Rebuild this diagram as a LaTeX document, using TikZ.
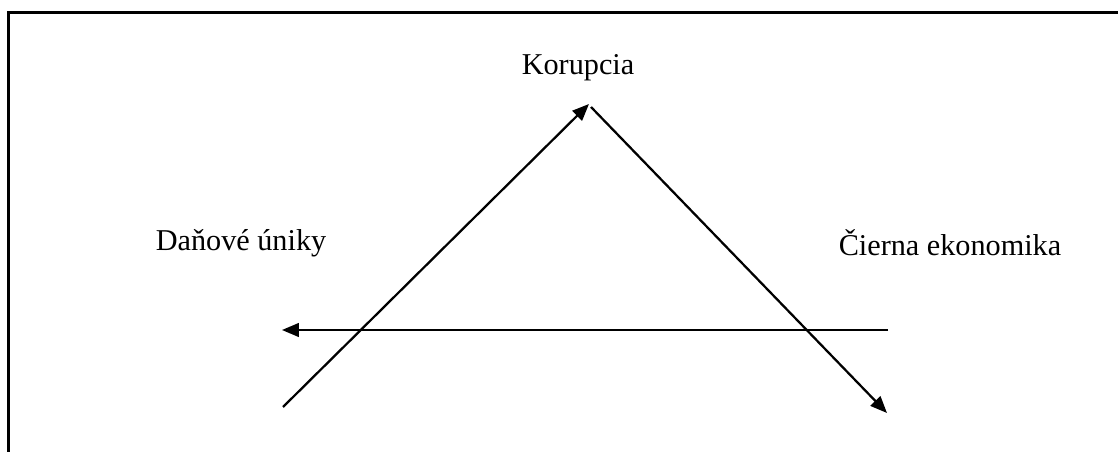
\documentclass[tikz,border=0pt]{standalone}
\usepackage{fontspec}
\setmainfont{Liberation Serif}
\usetikzlibrary{arrows.meta, positioning}
\tikzset{
  every picture/.style={line width=1.4pt},
  frame/.style={draw=black, line width=1.6pt},
  arrow/.style={-{Triangle[length=0.42cm, width=0.34cm]}, draw=black, line width=1.6pt},
  label/.style={font=\fontsize{21.5}{26}\selectfont, inner sep=0pt},
}
\begin{document}
\begin{tikzpicture}[x=0.025cm, y=-0.025cm]
  \useasboundingbox (0,0) rectangle (1118,452);
  \draw[frame] (8.5,452) -- (8.5,12.5) -- (1118,12.5);
  % labels
  \node[label] (kor) at (578,68) {Korupcia};
  \node[label] (dan) at (241,243) {Daňové úniky};
  \node[label] (cie) at (950,243) {Čierna ekonomika};
  % arrow ends
  \coordinate (a1) at (283,407);
  \coordinate (top) at (589,104);
  \coordinate (b1) at (591,107);
  \coordinate (b2) at (887,413);
  \coordinate (c1) at (888,330);
  \coordinate (c2) at (282,330);
  \draw[arrow] (a1) -- (top);
  \draw[arrow] (b1) -- (b2);
  \draw[arrow] (c1) -- (c2);
\end{tikzpicture}
\end{document}
